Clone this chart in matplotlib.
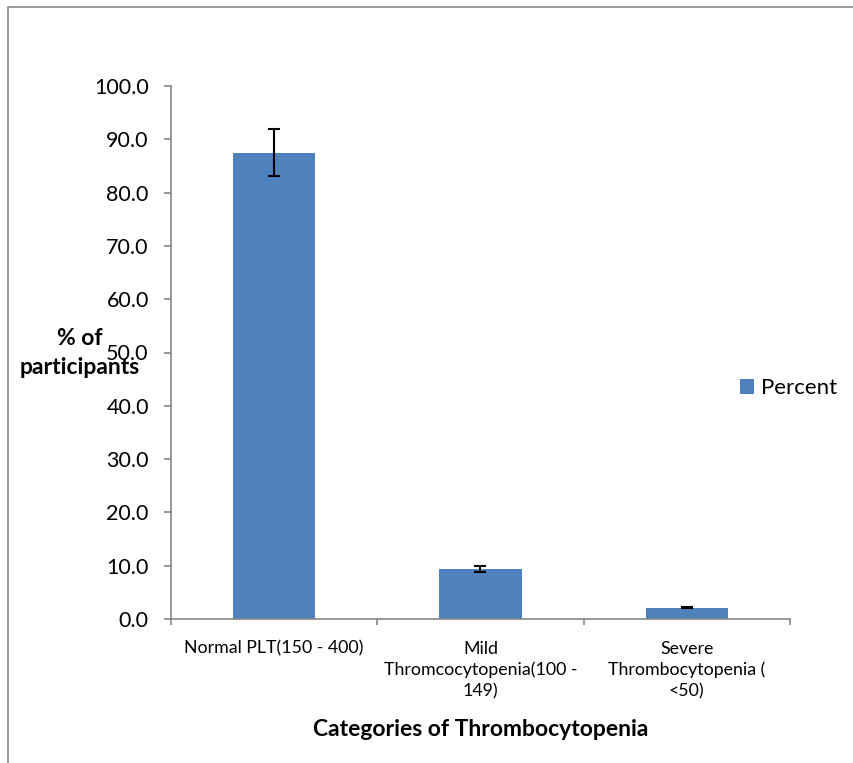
import matplotlib
matplotlib.use("Agg")
import matplotlib.pyplot as plt
from matplotlib.patches import Rectangle
import numpy as np

categories = ["Normal PLT(150 - 400)",
              "Mild\nThromcocytopenia(100 -\n149)",
              "Severe\nThrombocytopenia (\n<50)"]
percent = [87.5, 9.4, 2.1]
errors = [4.4, 0.6, 0.1]
yticks = [0, 10, 20, 30, 40, 50, 60, 70, 80, 90, 100]

plt.rcParams['font.family'] = ['Lato', 'DejaVu Sans']
axis_grey = '#868686'

fig = plt.figure(figsize=(8.54, 7.63), dpi=100)
ax = fig.add_axes([171/854, 144/763, 619/854, 533/763])

x = np.arange(len(categories))
ax.bar(x, percent, width=0.4, color='#4F81BD', label='Percent', zorder=2)
ax.errorbar(x, percent, yerr=errors, fmt='none', ecolor='black',
            elinewidth=1.5, capsize=4.5, capthick=1.5, zorder=3)

ax.set_xlim(-0.5, len(categories) - 0.5)
ax.set_ylim(0, 100)
ax.set_yticks(yticks)
ax.set_yticklabels(['%.1f' % v for v in yticks], fontsize=15.5)
ax.set_xticks(x)
ax.set_xticklabels(categories, fontsize=12.8, linespacing=1.38)
ax.set_xticks(np.arange(len(categories) + 1) - 0.5, minor=True)
ax.tick_params(axis='x', which='major', length=0, pad=15.5)
ax.tick_params(axis='x', which='minor', length=4, color=axis_grey, width=1.2)
ax.tick_params(axis='y', length=5, color=axis_grey, width=1.2, pad=11)

for side in ['top', 'right']:
    ax.spines[side].set_visible(False)
for side in ['left', 'bottom']:
    ax.spines[side].set_color(axis_grey)
    ax.spines[side].set_linewidth(1.2)

ax.set_xlabel('Categories of Thrombocytopenia', fontsize=16.5,
              fontweight='bold', labelpad=14)
fig.text(80/854, 1 - 353/763, '% of\nparticipants', fontsize=16.5,
         fontweight='bold', ha='center', va='center', linespacing=1.45)

leg = ax.legend(loc='center left', bbox_to_anchor=(720/854, 1 - 388/763),
                bbox_transform=fig.transFigure, frameon=False, fontsize=16,
                handlelength=0.65, handleheight=0.65, handletextpad=0.3)

fig.patches.append(Rectangle((8/854, -0.1), 1.2, 1 - 7/763 + 0.1,
                             transform=fig.transFigure, fill=False,
                             edgecolor=axis_grey, linewidth=1.2))

fig.savefig('out.png', dpi=100)
